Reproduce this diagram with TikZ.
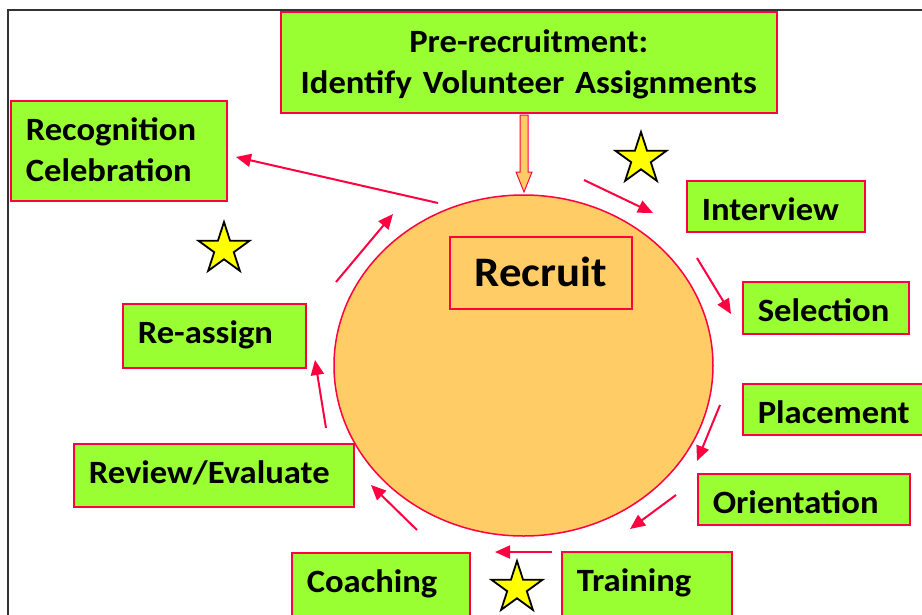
\documentclass[tikz,border=0pt]{standalone}
\usepackage{fontspec}
\setmainfont{Carlito}[FakeStretch=1.065]
\usetikzlibrary{arrows.meta,shapes.geometric,calc}
\definecolor{boxgreen}{HTML}{99FF33}
\definecolor{boxred}{HTML}{FF0040}
\definecolor{discorange}{HTML}{FFCC66}
\definecolor{staryellow}{HTML}{FFFF00}
\begin{document}
\begin{tikzpicture}[x=1pt,y=-1pt,
  lbl/.style={font=\fontsize{32.5}{41}\selectfont\bfseries},
  greenbox/.style={draw=boxred, line width=1.6pt, fill=boxgreen, anchor=north west,
    inner xsep=15pt, inner ysep=0pt, align=left, lbl, text height=40pt},
  flow/.style={draw=boxred, line width=2pt, -{Triangle[length=15pt,width=13pt]}},
  starmark/.style={star, star points=5, star point ratio=2.62, minimum size=54pt,
    inner sep=0pt, fill=staryellow, draw=black, line width=1.8pt}]
\useasboundingbox (0,0) rectangle (922,614);
\fill[white] (0,0) rectangle (922,614);
% frame
\draw[line width=1.2pt, black!80] (8,630) -- (8,10) -- (940,10);

% central disc
\node[ellipse, draw=boxred, line width=1.5pt, fill=discorange, inner sep=0pt,
  minimum width=379pt, minimum height=341pt] (disc) at (523.5,365.5) {};
\node[draw=boxred, line width=1.6pt, inner sep=0pt, minimum width=182pt,
  text height=50pt, text depth=22pt, font=\fontsize{42}{48}\selectfont\bfseries,
  anchor=north west] (recruit) at (449,236) {Recruit};

% top box
\node[greenbox, align=center, text width=466pt, text depth=60pt, text height=41pt] (pre) at (280,11)
  {Pre-recruitment:\\Identify Volunteer Assignments};

% block arrow down
\coordinate (bstart) at (524,115);
\coordinate (btip) at (524,192);
\draw[draw=boxred, line width=1pt, fill=discorange, line join=miter]
  ($(bstart)+(-4,0)$) -- ($(bstart)+(4,0)$) -- (528,172) -- (532,172) -- (btip)
  -- (516,172) -- (520,172) -- cycle;

% boxes
\node[greenbox, text width=186pt, text depth=60pt] (recog) at (10,100) {Recognition\\Celebration};
\node[greenbox, text width=148pt, text depth=11pt] (interview) at (686,180) {Interview};
\node[greenbox, text width=136pt, text depth=12pt] (selection) at (742,281) {Selection};
\node[greenbox, text width=155pt, text depth=11pt] (placement) at (742,383) {Placement};
\node[greenbox, text width=182pt, text depth=11pt] (orientation) at (697,473) {Orientation};
\node[greenbox, text width=140pt, text depth=30pt] (training) at (561,551) {Training};
\node[greenbox, text width=148pt, text depth=30pt] (coaching) at (291,552) {Coaching};
\node[greenbox, text width=250pt, text depth=23pt] (review) at (73,443) {Review/Evaluate};
\node[greenbox, text width=153pt, text depth=24pt] (reassign) at (122,303) {Re-assign};

% stars
\node[starmark] (star1) at (641,159) {};
\node[starmark] (star2) at (224,249) {};
\node[starmark] (star3) at (517,588) {};

% cycle arrows
\coordinate (a1s) at (584,180); \coordinate (a1e) at (653,213);
\coordinate (a2s) at (697,258); \coordinate (a2e) at (731,314);
\coordinate (a3s) at (720,405); \coordinate (a3e) at (697,461);
\coordinate (a4s) at (676,495); \coordinate (a4e) at (630,529);
\coordinate (a5s) at (552,552); \coordinate (a5e) at (495,552);
\coordinate (a6s) at (417,530); \coordinate (a6e) at (371,485);
\coordinate (a7s) at (326,428); \coordinate (a7e) at (315,360);
\coordinate (a8s) at (336,282); \coordinate (a8e) at (393,214);
\coordinate (a9s) at (438,203); \coordinate (a9e) at (236,157);
\foreach \i in {1,...,9} {\draw[flow] (a\i s) -- (a\i e);}
\end{tikzpicture}
\end{document}
